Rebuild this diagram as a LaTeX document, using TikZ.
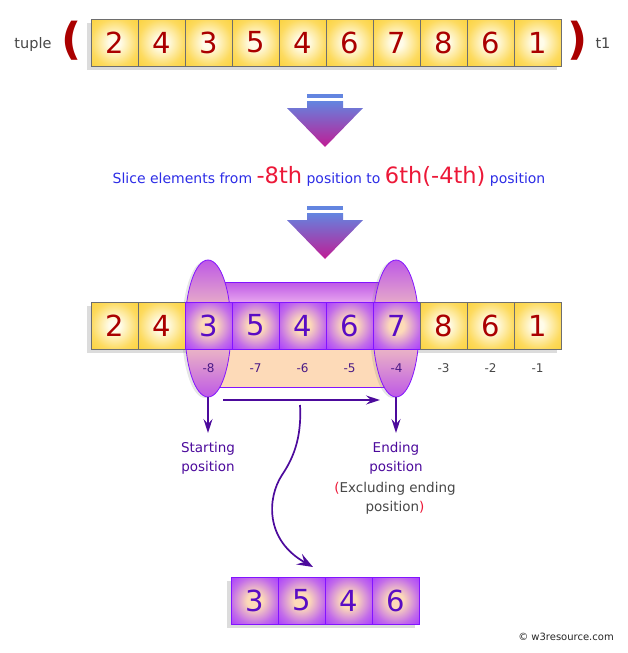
\documentclass[tikz,border=0pt]{standalone}
\usepackage{fontspec}
\setmainfont{DejaVu Sans}
\usepackage{xcolor}
\usetikzlibrary{arrows.meta, positioning, shapes.geometric, shadows, fit, backgrounds, calc}

\definecolor{cellred}{HTML}{AA0000}
\definecolor{cellgold}{HTML}{FCD23C}
\definecolor{cellcream}{HTML}{FFFCEA}
\definecolor{cellgray}{HTML}{6E6E6E}
\definecolor{selviolet}{HTML}{A93CFF}
\definecolor{selpeach}{HTML}{FDDAB8}
\definecolor{selborder}{HTML}{8214FF}
\definecolor{seltext}{HTML}{5A0CC4}
\definecolor{cylviolet}{HTML}{BE58E6}
\definecolor{cylpink}{HTML}{E6A4EE}
\definecolor{arrowpurple}{HTML}{4C0A9C}
\definecolor{arrowblue}{HTML}{6385E0}
\definecolor{arrowmag}{HTML}{C01C94}
\definecolor{sliceblue}{HTML}{2C2CE6}
\definecolor{slicered}{HTML}{EC1838}
\definecolor{labelgray}{HTML}{474747}
\definecolor{idxpurple}{HTML}{4A1A86}

\pgfdeclareradialshading{yellowglow}{\pgfpoint{0bp}{0bp}}{%
  color(0bp)=(cellcream); color(6bp)=(cellcream); color(25bp)=(cellgold!80!cellcream);
  color(36bp)=(cellgold); color(50bp)=(cellgold)}
\pgfdeclareradialshading{violetglow}{\pgfpoint{0bp}{0bp}}{%
  color(0bp)=(selpeach); color(8bp)=(selpeach); color(25bp)=(selviolet!70!selpeach);
  color(36bp)=(selviolet); color(50bp)=(selviolet)}

\begin{document}
\begin{tikzpicture}[
    x=1pt, y=-1pt,
    cell/.style={rectangle, minimum size=47pt, inner sep=0pt, outer sep=0pt,
                 line width=0.9pt, font=\fontsize{29}{29}\selectfont},
    yellowcell/.style={cell, shade, shading=yellowglow, draw=cellgray, text=cellred},
    violetcell/.style={cell, shade, shading=violetglow, draw=selborder, text=seltext},
    ring/.style={ellipse, minimum width=46pt, minimum height=137pt, inner sep=0pt,
                 draw=selborder, line width=0.8pt, top color=cylviolet,
                 bottom color=cylviolet, middle color=selpeach,
                 drop shadow={shadow xshift=-3pt, shadow yshift=-1pt, opacity=0.2}},
    rowshadow/.style={inner sep=0pt, fill=white,
                      drop shadow={shadow xshift=-4pt, shadow yshift=-4pt, opacity=0.28}},
    paren/.style={font=\fontsize{44}{44}\selectfont\bfseries, text=cellred},
    idx/.style={font=\fontsize{12}{12}\selectfont},
    poslabel/.style={font=\fontsize{13.5}{19}\selectfont, align=center, inner sep=0pt},
    arr/.style={-{Stealth[length=14pt, width=9pt, inset=5pt]}, line width=1.7pt, draw=arrowpurple},
    bigarr/.style={-{Stealth[length=16pt, width=12pt, inset=6pt]}, line width=1.7pt, draw=arrowpurple},
]
    \useasboundingbox (0,0) rectangle (627,653);

    % Tuple t1
    \foreach \v [count=\i] in {2,4,3,5,4,6,7,8,6,1} {
        \node[yellowcell] (t\i) at (114.5+47*\i-47, 42.5) {\v};
    }
    \node[paren] (lpar) at (72,41) {(};
    \node[paren] (rpar) at (578,41) {)};
    \node[font=\fontsize{14.5}{14.5}\selectfont, text=labelgray, anchor=base] (tname) at (33,48) {tuple};
    \node[font=\fontsize{14.5}{14.5}\selectfont, text=labelgray, anchor=base] (tvar) at (603,48) {t1};

    % Down arrows
    \foreach \dy in {0,112} {
        \fill[arrowblue] (307,94+\dy) rectangle (343,98+\dy);
        \shade[top color=arrowblue, bottom color=arrowmag]
            (307,101+\dy) -- (343,101+\dy) -- (343,108+\dy) -- (363,108+\dy)
            -- (325,147+\dy) -- (287,108+\dy) -- (307,108+\dy) -- cycle;
    }

    % Description
    \node[font=\fontsize{14}{16}\selectfont, text=sliceblue, anchor=base] (slice) at (329,183)
        {Slice elements from {\color{slicered}\fontsize{22.5}{22}\selectfont -8th} position to
         {\color{slicered}\fontsize{22.5}{22}\selectfont 6th(-4th)} position};

    % Cylinder
    \fill[selpeach, draw=selborder, line width=0.8pt] (208,282) rectangle (396,387);
    \shade[top color=cylviolet, bottom color=cylpink] (208,282) rectangle (396,302);
    \draw[selborder, line width=0.8pt] (208,282) -- (396,282);
    \node[ring] (lring) at (208,328.5) {};
    \node[ring] (rring) at (396,328.5) {};

    % Sliced row
    \foreach \v [count=\i] in {2,4,3,5,4,6,7,8,6,1} {
        \ifnum\i<3
            \node[yellowcell] (m\i) at (114.5+47*\i-47, 325.5) {\v};
        \else\ifnum\i>7
            \node[yellowcell] (m\i) at (114.5+47*\i-47, 325.5) {\v};
        \else
            \node[violetcell] (m\i) at (114.5+47*\i-47, 325.5) {\v};
        \fi\fi
    }
    \foreach \n [count=\i from 3] in {-8,-7,-6,-5,-4} {
        \node[idx, text=idxpurple] (n\i) at ($(m\i.south)+(0,19)$) {\n};
    }
    \foreach \n [count=\i from 8] in {-3,-2,-1} {
        \node[idx, text=labelgray] (n\i) at ($(m\i.south)+(0,19)$) {\n};
    }

    % Result
    \foreach \v [count=\i] in {3,5,4,6} {
        \node[violetcell] (r\i) at (254.5+47*\i-47, 600.5) {\v};
    }

    % Row shadows
    \begin{scope}[on background layer]
        \node[rowshadow, fit=(t1)(t10)] (tshade) {};
        \node[rowshadow, fit=(m1)(m10)] (mshade) {};
        \node[rowshadow, fit=(r1)(r4)] (rshade) {};
    \end{scope}

    % Labels
    \node[poslabel, text=arrowpurple, anchor=north] (startlbl) at (208,442) {Starting\\position};
    \node[poslabel, text=arrowpurple, anchor=north] (endlbl) at (396,442) {Ending\\position};
    \node[poslabel, text=labelgray, anchor=north] (exclbl) at (395,482)
        {{\color{slicered}(}Excluding ending\\position{\color{slicered})}};

    % Arrows
    \draw[arr, shorten >=9pt] (lring.south) -- (startlbl.north);
    \draw[arr, shorten >=9pt] (rring.south) -- (endlbl.north);
    \coordinate (spanL) at (223,400);
    \coordinate (spanR) at (380,400);
    \draw[arr] (spanL) -- (spanR);
    \coordinate (bendtop) at (300,405);
    \coordinate (bendmid) at (282,475);
    \coordinate (bendtip) at (313,567);
    \draw[bigarr] (bendtop) .. controls (302,440) and (292,460) .. (bendmid)
        .. controls (267,498) and (265,540) .. (bendtip);

    % Credit
    \node[font=\fontsize{10}{10}\selectfont, text=black!85] (credit) at (566,637) {© w3resource.com};
\end{tikzpicture}
\end{document}
